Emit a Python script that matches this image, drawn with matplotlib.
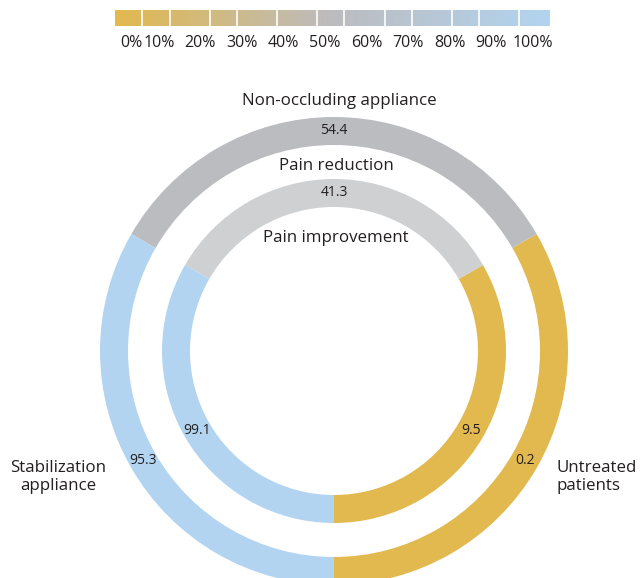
import matplotlib.pyplot as plt
import numpy as np
from matplotlib.patches import Wedge
from matplotlib.colors import LinearSegmentedColormap

plt.rcParams['font.family'] = ['Open Sans', 'DejaVu Sans']

# data
groups = ['Untreated\npatients', 'Non-occluding appliance', 'Stabilization\nappliance']
pain_reduction = [0.2, 54.4, 95.3]      # outer ring
pain_improvement = [9.5, 41.3, 99.1]    # inner ring
scale_ticks = [0, 10, 20, 30, 40, 50, 60, 70, 80, 90, 100]

outer_colors = ['#e2b94f', '#bbbcc0', '#b2d4f0']
inner_colors = ['#e2b94f', '#cfd0d2', '#b2d4f0']
txt = '#231f20'

fig = plt.figure(figsize=(6.4, 5.78), dpi=100)
ax = fig.add_axes([0, 0, 1, 1])
ax.set_xlim(0, 640)
ax.set_ylim(0, 578)
ax.set_aspect('equal')
ax.axis('off')

cx, cy = 334, 227
n = len(groups)
step = 360.0 / n
start = -90

rings = [(pain_reduction, outer_colors, 234, 28),
         (pain_improvement, inner_colors, 172, 28)]
for vals, cols, r, w in rings:
    for i, v in enumerate(vals):
        a0 = start + i * step
        ax.add_patch(Wedge((cx, cy), r, a0, a0 + step, width=w,
                           facecolor=cols[i], edgecolor='none'))
        mid = np.deg2rad(a0 + step / 2)
        rm = r - w / 2
        ax.text(cx + rm * np.cos(mid), cy + rm * np.sin(mid), f'{v:g}',
                ha='center', va='center', fontsize=10, color=txt)

# ring titles
fs = 12.2
ax.text(cx + 5, 477, groups[1], ha='center', va='center', fontsize=fs, color=txt)
ax.text(cx + 2, 412, 'Pain reduction', ha='center', va='center', fontsize=fs, color=txt)
ax.text(cx + 2, 340, 'Pain improvement', ha='center', va='center', fontsize=fs, color=txt)
ax.text(58, 101, groups[2], ha='center', va='center', fontsize=fs, color=txt,
        linespacing=1.15)
ax.text(556, 101, groups[0], ha='left', va='center', fontsize=fs, color=txt,
        linespacing=1.15)

# colour scale
cmap = LinearSegmentedColormap.from_list('scale', ['#e2b94f', '#bcbcbf', '#b2d4f0'])
grad = np.linspace(0, 1, 256).reshape(1, -1)
x0, x1 = 115, 550
ax.imshow(grad, cmap=cmap, extent=[x0, x1, 552, 568], aspect='auto', zorder=1)
for sx in [142, 170, 210, 237, 277, 317, 344, 385, 412, 452, 479, 519]:
    ax.plot([sx, sx], [552, 568], color='white', lw=1.2, zorder=2)
label_x = [131, 159] + list(np.linspace(200, 533, 9))
for lx, t in zip(label_x, scale_ticks):
    ax.text(lx, 535, f'{t}%', ha='center', va='center', fontsize=11.5, color=txt)

fig.savefig('out.png', dpi=100)
